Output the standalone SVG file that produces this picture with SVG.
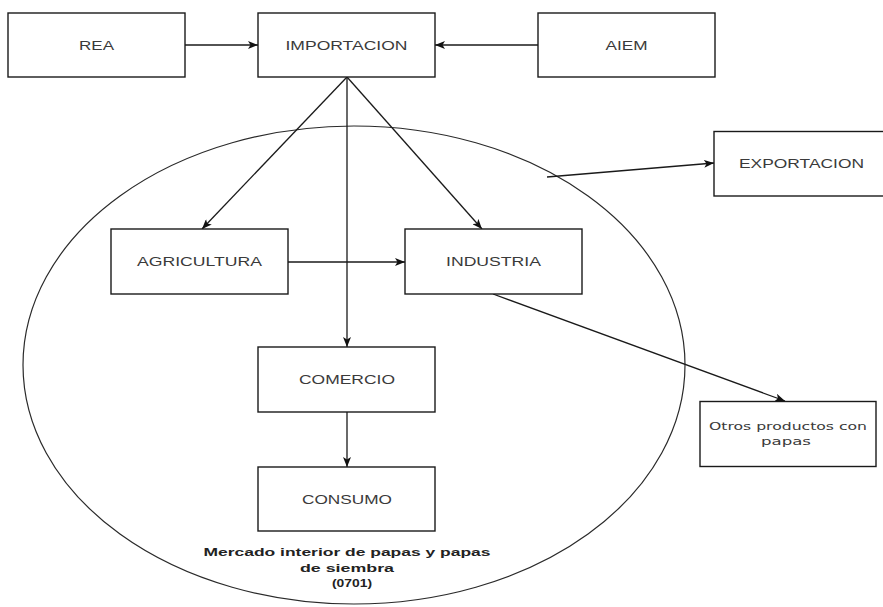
<svg xmlns="http://www.w3.org/2000/svg" width="883" height="607" viewBox="0 0 883 607">
<style>
.bg{fill:#ffffff}
.box{fill:#ffffff;stroke:#1a1a1a;stroke-width:1.4}
.ell{fill:none;stroke:#2a2a2a;stroke-width:1.2}
.lbl{font-family:"Liberation Sans",Arial,sans-serif;font-size:13px;fill:#3a3a3a;text-anchor:middle}
.lbl2{font-family:"DejaVu Sans",Verdana,sans-serif;font-size:11px;fill:#3a3a3a;text-anchor:middle}
.bold{font-family:"Liberation Sans",Arial,sans-serif;font-size:11px;font-weight:bold;fill:#222;text-anchor:middle}
.edge{fill:none;stroke:#1a1a1a;stroke-width:1.3}
</style>
<defs>
<marker id="arr" viewBox="0 0 10 8" refX="10" refY="4" markerWidth="10" markerHeight="8" markerUnits="userSpaceOnUse" orient="auto">
<path d="M0,0 L10,4 L0,8 L2.5,4 Z" fill="#111"/>
</marker>
</defs>
<rect class="bg" x="0" y="0" width="883" height="607"/>

<g id="mercado">
<ellipse class="ell" cx="354" cy="365" rx="331" ry="239"/>
<text class="bold" x="347" y="556" textLength="287" lengthAdjust="spacingAndGlyphs">Mercado interior de papas y papas</text>
<text class="bold" x="347" y="572" textLength="94" lengthAdjust="spacingAndGlyphs">de siembra</text>
<text class="bold" x="352" y="587" textLength="40" lengthAdjust="spacingAndGlyphs">(0701)</text>
</g>

<g id="connectors">
<line class="edge" x1="185" y1="45" x2="258" y2="45" marker-end="url(#arr)"/>
<line class="edge" x1="538" y1="45" x2="435" y2="45" marker-end="url(#arr)"/>
<line class="edge" x1="347" y1="77" x2="202" y2="229" marker-end="url(#arr)"/>
<line class="edge" x1="347" y1="77" x2="482" y2="229" marker-end="url(#arr)"/>
<line class="edge" x1="347" y1="77" x2="347" y2="347" marker-end="url(#arr)"/>
<line class="edge" x1="288" y1="262" x2="405" y2="262" marker-end="url(#arr)"/>
<line class="edge" x1="347" y1="412" x2="347" y2="467" marker-end="url(#arr)"/>
<line class="edge" x1="493" y1="294" x2="785" y2="401" marker-end="url(#arr)"/>
<line class="edge" x1="547" y1="177" x2="714" y2="163" marker-end="url(#arr)"/>
</g>

<g id="rea">
<rect class="box" x="8" y="13" width="177" height="64"/>
<text class="lbl" x="96.5" y="49.5" textLength="35" lengthAdjust="spacingAndGlyphs">REA</text>
</g>
<g id="importacion">
<rect class="box" x="258" y="13" width="177" height="64"/>
<text class="lbl" x="346.5" y="49.5" textLength="122" lengthAdjust="spacingAndGlyphs">IMPORTACION</text>
</g>
<g id="aiem">
<rect class="box" x="538" y="13" width="177" height="64"/>
<text class="lbl" x="626.5" y="49.5" textLength="42" lengthAdjust="spacingAndGlyphs">AIEM</text>
</g>
<g id="exportacion">
<rect class="box" x="714" y="131.5" width="177" height="64.5"/>
<text class="lbl" x="801.5" y="168" textLength="125" lengthAdjust="spacingAndGlyphs">EXPORTACION</text>
</g>
<g id="agricultura">
<rect class="box" x="111" y="229" width="177" height="65"/>
<text class="lbl" x="199.5" y="266" textLength="125" lengthAdjust="spacingAndGlyphs">AGRICULTURA</text>
</g>
<g id="industria">
<rect class="box" x="405" y="229" width="177" height="65"/>
<text class="lbl" x="493.5" y="266" textLength="95" lengthAdjust="spacingAndGlyphs">INDUSTRIA</text>
</g>
<g id="comercio">
<rect class="box" x="258" y="347" width="177" height="65"/>
<text class="lbl" x="347" y="384" textLength="96" lengthAdjust="spacingAndGlyphs">COMERCIO</text>
</g>
<g id="consumo">
<rect class="box" x="258" y="467" width="177" height="64"/>
<text class="lbl" x="347" y="503.5" textLength="90" lengthAdjust="spacingAndGlyphs">CONSUMO</text>
</g>
<g id="otros">
<rect class="box" x="700" y="401.5" width="176" height="65"/>
<text class="lbl2" x="788" y="429.5" textLength="158" lengthAdjust="spacingAndGlyphs">Otros productos con</text>
<text class="lbl2" x="786" y="444.5" textLength="50" lengthAdjust="spacingAndGlyphs">papas</text>
</g>
</svg>
